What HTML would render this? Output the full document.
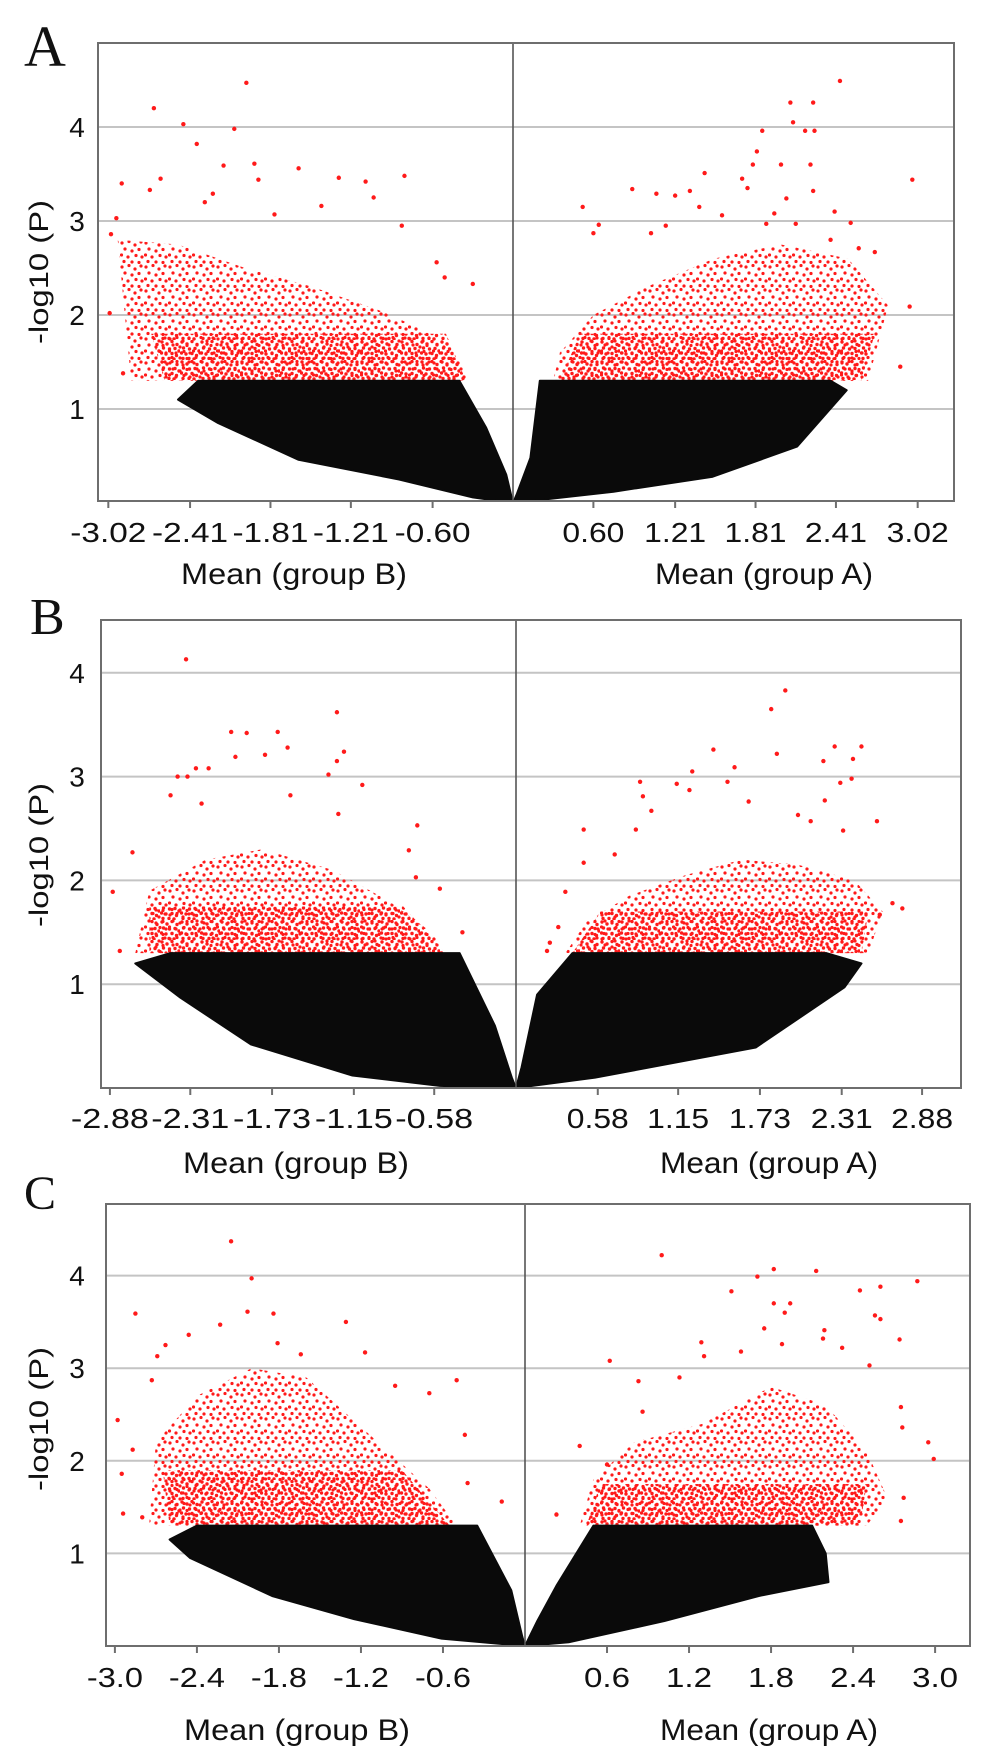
<!DOCTYPE html>
<html>
<head>
<meta charset="utf-8">
<style>
  html, body { margin: 0; padding: 0; background: #ffffff; }
  svg { display: block; }
  text { font-family: "Liberation Sans", Arial, sans-serif; fill: #111; }
  .letter { font-family: "Liberation Serif", "Times New Roman", serif; fill: #111; }
</style>
</head>
<body>
<svg id="fig" width="986" height="1748" viewBox="0 0 986 1748" xmlns="http://www.w3.org/2000/svg">
  <defs>
    <pattern id="redDots" width="24" height="24" patternUnits="userSpaceOnUse">
      <g fill="#ff1a1a">
        <circle cx="2" cy="3" r="1.6"/><circle cx="9" cy="1.5" r="1.6"/><circle cx="15" cy="5" r="1.6"/>
        <circle cx="21" cy="2" r="1.6"/><circle cx="5" cy="9" r="1.6"/><circle cx="12" cy="11" r="1.6"/>
        <circle cx="19" cy="9.5" r="1.6"/><circle cx="1.5" cy="15" r="1.6"/><circle cx="8" cy="17" r="1.6"/>
        <circle cx="16" cy="15.5" r="1.6"/><circle cx="22" cy="17" r="1.6"/><circle cx="4" cy="21.5" r="1.6"/>
        <circle cx="12" cy="22" r="1.6"/><circle cx="19" cy="22.5" r="1.6"/>
      </g>
    </pattern>
    <pattern id="redDense" width="20" height="20" patternUnits="userSpaceOnUse">
      <g fill="#ff1a1a">
        <circle cx="2" cy="2" r="1.7"/><circle cx="7" cy="4" r="1.7"/><circle cx="12" cy="1.5" r="1.7"/>
        <circle cx="17" cy="4.5" r="1.7"/><circle cx="3.5" cy="8" r="1.7"/><circle cx="9.5" cy="9" r="1.7"/>
        <circle cx="15" cy="8.5" r="1.7"/><circle cx="19" cy="11" r="1.7"/><circle cx="1.5" cy="13" r="1.7"/>
        <circle cx="6" cy="14" r="1.7"/><circle cx="12" cy="13.5" r="1.7"/><circle cx="16.5" cy="15.5" r="1.7"/>
        <circle cx="3" cy="18.5" r="1.7"/><circle cx="9" cy="18.5" r="1.7"/><circle cx="14" cy="19" r="1.7"/>
      </g>
    </pattern>
  </defs>
</svg>
<script>
// ---------- data ----------
// Panel A
const ticksA = [-3.02, -2.41, -1.81, -1.21, -0.60, 0.60, 1.21, 1.81, 2.41, 3.02];
const tickLabelsA = ["-3.02", "-2.41", "-1.81", "-1.21", "-0.60", "0.60", "1.21", "1.81", "2.41", "3.02"];
const yTicksA = [1, 2, 3, 4];
const blackLeftA = [[0,0],[-0.3,0.06],[-0.85,0.25],[-1.6,0.46],[-2.2,0.85],[-2.5,1.1],[-2.35,1.3],[-0.4,1.3],[-0.2,0.8],[-0.05,0.3]];
const blackRightA = [[0,0],[0.75,0.12],[1.49,0.28],[2.12,0.6],[2.49,1.2],[2.37,1.3],[0.2,1.3],[0.13,0.48],[0.03,0.1]];
const redZoneLeftA = [[-2.85,1.3],[-2.95,2.8],[-2.5,2.75],[-2.0,2.5],[-1.5,2.3],[-1.0,2.05],[-0.6,1.8],[-0.35,1.45],[-0.35,1.3]];
const redZoneRightA = [[0.3,1.3],[0.35,1.6],[0.6,2.0],[1.0,2.3],[1.5,2.6],[2.0,2.75],[2.5,2.6],[2.8,2.1],[2.65,1.3]];
const redBandLeftA = [[-2.6,1.3],[-2.7,1.8],[-0.5,1.8],[-0.35,1.3]];
const redBandRightA = [[0.35,1.3],[0.5,1.8],[2.7,1.8],[2.6,1.3]];
const redPointsA = [[-1.99,4.47],[-2.68,4.2],[-2.46,4.03],[-2.08,3.98],[-2.36,3.82],[-2.16,3.59],[-1.93,3.61],[-1.6,3.56],[-1.30,3.46],[-1.10,3.42],[-0.81,3.48],[-2.92,3.4],[-2.63,3.45],[-2.71,3.33],[-1.04,3.25],[-1.43,3.16],[-1.90,3.44],[-2.30,3.20],[-2.24,3.29],[-2.96,3.03],[-1.78,3.07],[-0.83,2.95],[-3.0,2.86],[-0.57,2.56],[-0.30,2.33],[-0.51,2.40],[-2.91,1.38],[-3.01,2.02],
  [2.44,4.49],[2.07,4.26],[2.24,4.26],[2.09,4.05],[1.86,3.96],[2.18,3.96],[2.25,3.96],[1.82,3.74],[1.79,3.6],[2.0,3.6],[2.22,3.6],[1.43,3.51],[1.71,3.45],[1.75,3.35],[2.24,3.32],[0.89,3.34],[1.07,3.29],[1.21,3.27],[1.32,3.32],[1.39,3.15],[0.52,3.15],[2.04,3.24],[1.95,3.08],[2.40,3.1],[2.98,3.44],[2.96,2.09],[2.89,1.45],[1.56,3.06],[1.89,2.97],[2.11,2.97],[2.52,2.98],[0.64,2.96],[1.14,2.95],[1.03,2.87],[0.60,2.87],[2.58,2.71],[2.70,2.67],[2.37,2.8]];

// Panel B
const ticksB = [-2.88, -2.31, -1.73, -1.15, -0.58, 0.58, 1.15, 1.73, 2.31, 2.88];
const tickLabelsB = ["-2.88", "-2.31", "-1.73", "-1.15", "-0.58", "0.58", "1.15", "1.73", "2.31", "2.88"];
const yTicksB = [1, 2, 3, 4];
const blackLeftB = [[0,0],[-0.54,0.02],[-1.16,0.12],[-1.88,0.42],[-2.38,0.87],[-2.7,1.2],[-2.45,1.3],[-0.4,1.3],[-0.15,0.6],[-0.03,0.1]];
const blackRightB = [[0,0],[0.56,0.1],[1.7,0.39],[2.33,0.97],[2.45,1.2],[2.2,1.3],[0.4,1.3],[0.15,0.9],[0.04,0.2]];
const redZoneLeftB = [[-2.7,1.3],[-2.6,1.9],[-2.2,2.2],[-1.8,2.3],[-1.3,2.1],[-0.9,1.8],[-0.6,1.5],[-0.5,1.3]];
const redZoneRightB = [[0.35,1.3],[0.5,1.6],[0.8,1.85],[1.2,2.05],[1.6,2.2],[2.0,2.15],[2.4,2.0],[2.6,1.7],[2.5,1.3]];
const redBandLeftB = [[-2.6,1.3],[-2.6,1.75],[-0.8,1.75],[-0.5,1.3]];
const redBandRightB = [[0.4,1.3],[0.6,1.7],[2.5,1.7],[2.45,1.3]];
const redPointsB = [[-2.34,4.13],[-1.27,3.62],[-2.02,3.43],[-1.91,3.42],[-1.69,3.43],[-1.62,3.28],[-1.22,3.24],[-1.78,3.21],[-1.27,3.15],[-1.99,3.19],[-2.40,3.0],[-2.33,3.0],[-2.27,3.08],[-2.18,3.08],[-1.33,3.02],[-1.09,2.92],[-2.45,2.82],[-1.60,2.82],[-2.23,2.74],[-0.70,2.53],[-1.26,2.64],[-0.76,2.29],[-2.72,2.27],[-2.86,1.89],[-0.54,1.92],[-2.81,1.32],[-0.71,2.03],[-0.38,1.50],
  [1.91,3.83],[1.81,3.65],[1.85,3.22],[1.40,3.26],[2.26,3.29],[2.45,3.29],[2.18,3.15],[2.39,3.17],[1.55,3.09],[1.25,3.05],[2.38,2.98],[2.30,2.94],[0.88,2.95],[1.14,2.93],[1.23,2.87],[1.50,2.95],[0.90,2.81],[2.19,2.77],[0.96,2.67],[1.65,2.76],[2.56,2.57],[0.48,2.49],[0.85,2.49],[0.48,2.17],[2.74,1.73],[2.67,1.78],[2.58,1.67],[0.30,1.55],[0.24,1.40],[0.22,1.32],[0.35,1.89],[0.70,2.25],[2.0,2.63],[2.09,2.57],[2.32,2.48]];

// Panel C
const ticksC = [-3.0, -2.4, -1.8, -1.2, -0.6, 0.6, 1.2, 1.8, 2.4, 3.0];
const tickLabelsC = ["-3.0", "-2.4", "-1.8", "-1.2", "-0.6", "0.6", "1.2", "1.8", "2.4", "3.0"];
const yTicksC = [1, 2, 3, 4];
const blackLeftC = [[0,0],[-0.61,0.08],[-1.25,0.29],[-1.85,0.54],[-2.45,0.95],[-2.6,1.15],[-2.4,1.3],[-0.35,1.3],[-0.1,0.6],[-0.02,0.1]];
const blackRightC = [[0,0],[0.32,0.04],[1.02,0.27],[1.71,0.54],[2.22,0.69],[2.2,1.0],[2.1,1.3],[0.5,1.3],[0.23,0.65],[0.09,0.27]];
const redZoneLeftC = [[-2.75,1.3],[-2.7,2.2],[-2.4,2.7],[-2.0,3.0],[-1.6,2.9],[-1.3,2.5],[-1.0,2.1],[-0.7,1.7],[-0.5,1.3]];
const redZoneRightC = [[0.4,1.3],[0.5,1.8],[0.8,2.2],[1.3,2.4],[1.8,2.8],[2.2,2.6],[2.5,2.1],[2.65,1.6],[2.5,1.3]];
const redBandLeftC = [[-2.6,1.3],[-2.65,1.9],[-0.9,1.9],[-0.55,1.3]];
const redBandRightC = [[0.45,1.3],[0.55,1.75],[2.5,1.75],[2.45,1.3]];
const redPointsC = [[-2.15,4.37],[-2.0,3.97],[-2.85,3.59],[-2.03,3.61],[-1.84,3.59],[-1.31,3.50],[-2.23,3.47],[-2.46,3.36],[-2.63,3.25],[-1.81,3.27],[-1.17,3.17],[-1.64,3.15],[-2.69,3.13],[-0.50,2.87],[-0.95,2.81],[-0.70,2.73],[-2.98,2.44],[-2.87,2.12],[-2.95,1.86],[-2.94,1.43],[-2.80,1.39],[-0.44,2.28],[-0.42,1.76],[-0.17,1.56],[-2.73,2.87],
  [1.0,4.22],[2.13,4.05],[1.82,4.07],[1.70,3.99],[2.87,3.94],[2.6,3.88],[2.45,3.84],[1.51,3.83],[1.82,3.70],[1.94,3.70],[1.90,3.60],[2.56,3.57],[2.60,3.53],[1.75,3.43],[2.19,3.41],[2.74,3.31],[2.18,3.32],[1.29,3.28],[1.88,3.26],[2.32,3.22],[1.31,3.13],[1.58,3.18],[0.62,3.08],[2.52,3.03],[1.13,2.90],[0.83,2.86],[2.95,2.20],[2.99,2.02],[2.77,1.60],[2.75,1.35],[2.76,2.36],[2.75,2.58],[0.40,2.16],[0.23,1.42],[0.6,1.96],[0.86,2.53]];

// ---------- layout (pixel geometry, not data) ----------
const panels = [
  { id: "a", letter: "A", letterX: 24, letterY: 66, letterSize: 58,
    left: 98, right: 954, top: 43, bottom: 501, cx: 513, xs: 134, y0: 503, ys: 94,
    ticks: ticksA, labels: tickLabelsA, yTicks: yTicksA, negW: 76, posW: 62, tickBase: 542,
    titleY: 272, meanBase: 584, meanBX: 294, meanAX: 764,
    blackL: blackLeftA, blackR: blackRightA, zoneL: redZoneLeftA, zoneR: redZoneRightA,
    bandL: redBandLeftA, bandR: redBandRightA, red: redPointsA },
  { id: "b", letter: "B", letterX: 30, letterY: 634, letterSize: 52,
    left: 101, right: 961, top: 620, bottom: 1088, cx: 516, xs: 141, y0: 1088, ys: 103.8,
    ticks: ticksB, labels: tickLabelsB, yTicks: yTicksB, negW: 78, posW: 62, tickBase: 1128,
    titleY: 855, meanBase: 1173, meanBX: 296, meanAX: 769,
    blackL: blackLeftB, blackR: blackRightB, zoneL: redZoneLeftB, zoneR: redZoneRightB,
    bandL: redBandLeftB, bandR: redBandRightB, red: redPointsB },
  { id: "c", letter: "C", letterX: 24, letterY: 1209, letterSize: 48,
    left: 106, right: 970, top: 1204, bottom: 1646, cx: 525, xs: 136.7, y0: 1646, ys: 92.6,
    ticks: ticksC, labels: tickLabelsC, yTicks: yTicksC, negW: 56, posW: 46, tickBase: 1687,
    titleY: 1419, meanBase: 1740, meanBX: 297, meanAX: 769,
    blackL: blackLeftC, blackR: blackRightC, zoneL: redZoneLeftC, zoneR: redZoneRightC,
    bandL: redBandLeftC, bandR: redBandRightC, red: redPointsC }
];

const NS = "http://www.w3.org/2000/svg";
const svg = document.getElementById("fig");
function mk(tag, attrs, parent) {
  const e = document.createElementNS(NS, tag);
  for (const k in attrs) e.setAttribute(k, attrs[k]);
  (parent || svg).appendChild(e);
  return e;
}

panels.forEach(p => {
  const xScale = v => p.cx + v * p.xs;
  const yScale = v => p.y0 - v * p.ys;

  const g = mk("g", {});
  
  

  const clipId = "clip-" + p.id;
  const cp = mk("clipPath", { id: clipId }, g);
  mk("rect", { x: p.left, y: p.top, width: p.right - p.left, height: p.bottom - p.top }, cp);

  const L = mk("text", { x: p.letterX, y: p.letterY, "font-size": p.letterSize, class: "letter" }, g);
  L.textContent = p.letter;
  
  

  p.yTicks.forEach(t => {
    const y = yScale(t);
    const gl = mk("line", { x1: p.left, x2: p.right, y1: y, y2: y, stroke: "#c4c4c4", "stroke-width": 2 }, g);
    
    
    const tl = mk("text", { x: 77, y: y + 10, "font-size": 28, "text-anchor": "middle" }, g);
    tl.textContent = String(t);
    
    
  });

  const yt = mk("text", { x: 0, y: 0, "font-size": 27, "text-anchor": "middle",
    transform: "translate(48," + p.titleY + ") rotate(-90)", textLength: 144, lengthAdjust: "spacingAndGlyphs" }, g);
  yt.textContent = "-log10 (P)";
  
  

  const plot = mk("g", { "clip-path": "url(#" + clipId + ")" }, g);
  
  

  const poly = pts => pts.map(q => xScale(q[0]).toFixed(1) + "," + yScale(q[1]).toFixed(1)).join(" ");

  [["left", p.zoneL], ["right", p.zoneR]].forEach(([side, pts]) => {
    const z = mk("polygon", { points: poly(pts), fill: "url(#redDots)", "stroke-linejoin": "round" }, plot);
    
    
  });
  [["left", p.bandL], ["right", p.bandR]].forEach(([side, pts]) => {
    const z = mk("polygon", { points: poly(pts), fill: "url(#redDense)" }, plot);
    
    
  });
  [["left", p.blackL], ["right", p.blackR]].forEach(([side, pts]) => {
    const b = mk("polygon", { points: poly(pts), fill: "#0a0a0a", stroke: "#0a0a0a", "stroke-width": 2, "stroke-linejoin": "round" }, plot);
    
    
  });
  p.red.forEach(q => {
    const c = mk("circle", { cx: xScale(q[0]), cy: yScale(q[1]), r: 2.2, fill: "#ff1a1a" }, plot);
    
    
  });

  const cl = mk("line", { x1: p.cx, x2: p.cx, y1: p.top, y2: p.bottom, stroke: "#555", "stroke-width": 1.6 }, g);
  
  

  const fr = mk("rect", { x: p.left, y: p.top, width: p.right - p.left, height: p.bottom - p.top,
    fill: "none", stroke: "#6e6e6e", "stroke-width": 2 }, g);
  
  

  p.ticks.forEach((t, i) => {
    const x = xScale(t);
    const tk = mk("line", { x1: x, x2: x, y1: p.bottom, y2: p.bottom + 7, stroke: "#6e6e6e", "stroke-width": 2 }, g);
    
    
    const tl = mk("text", { x: x, y: p.tickBase, "font-size": 28, "text-anchor": "middle",
      textLength: t < 0 ? p.negW : p.posW, lengthAdjust: "spacingAndGlyphs" }, g);
    tl.textContent = p.labels[i];
    
    
  });

  const mb = mk("text", { x: p.meanBX, y: p.meanBase, "font-size": 30, "text-anchor": "middle", textLength: 226, lengthAdjust: "spacingAndGlyphs" }, g);
  mb.textContent = "Mean (group B)";
  
  
  const ma = mk("text", { x: p.meanAX, y: p.meanBase, "font-size": 30, "text-anchor": "middle", textLength: 218, lengthAdjust: "spacingAndGlyphs" }, g);
  ma.textContent = "Mean (group A)";
  
  
});
</script>
</body>
</html>
